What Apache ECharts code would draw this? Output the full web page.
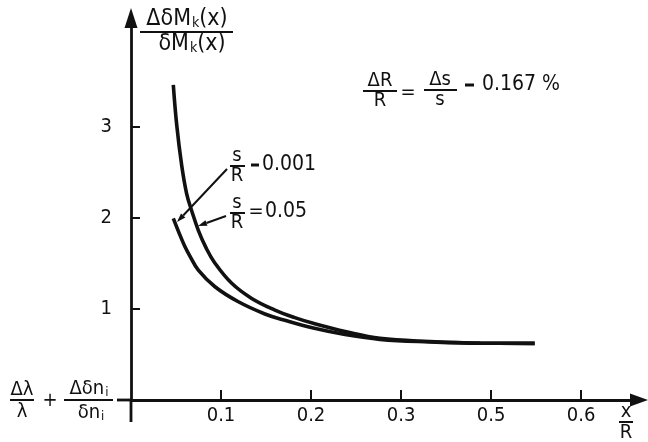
<!DOCTYPE html>
<html lang="en">
<head>
<meta charset="UTF-8">
<title>ΔδMk(x) / δMk(x)</title>
<script src="https://cdn.jsdelivr.net/npm/echarts@6/dist/echarts.min.js"></script>
<style>
    html, body { margin: 0; padding: 0; background: #fff; }
    #chart { width: 648px; height: 442px; }
</style>
</head>
<body>
<div id="chart"></div>
<script>
    // s/R = 0.05 curve (the one that starts high)
    var xHigh = [0.047, 0.0508, 0.0563, 0.0618, 0.0675, 0.0748, 0.0833, 0.0933, 0.1119, 0.1341, 0.1599, 0.182, 0.2025, 0.2393, 0.2765, 0.3318, 0.3881, 0.4485];
    var yHigh = [3.465, 3.023, 2.58, 2.269, 2.078, 1.866, 1.675, 1.504, 1.283, 1.117, 0.989, 0.906, 0.843, 0.75, 0.678, 0.643, 0.625, 0.623];
    // s/R = 0.001 curve
    var xLow = [0.047, 0.0544, 0.06, 0.0656, 0.0748, 0.0933, 0.1193, 0.1488, 0.171, 0.2025, 0.2393, 0.2765, 0.3318, 0.3881, 0.4485];
    var yLow = [1.997, 1.813, 1.685, 1.58, 1.428, 1.245, 1.08, 0.946, 0.876, 0.791, 0.717, 0.667, 0.639, 0.624, 0.623];

    var xTickValues = [0.1, 0.2, 0.3, 0.4, 0.5];
    var xTickLabels = ['0.1', '0.2', '0.3', '0.5', '0.6'];
    var yTickValues = [1, 2, 3];

    var ink = '#111';
    var font = '"DejaVu Sans Condensed", "DejaVu Sans", sans-serif';

    function zip(xs, ys) {
        return xs.map(function (x, i) { return [x, ys[i]]; });
    }

    function txt(s, x, y, size, align, rich) {
        return {
            type: 'text', x: x, y: y, z: 10,
            style: {
                text: s, fill: ink, fontSize: size || 20, fontFamily: font,
                textAlign: align || 'center', textVerticalAlign: 'middle',
                rich: rich
            }
        };
    }
    function bar(x1, x2, y, w) {
        return { type: 'line', z: 10, shape: { x1: x1, y1: y, x2: x2, y2: y }, style: { stroke: ink, lineWidth: w || 2 } };
    }
    function leader(x1, y1, x2, y2) {
        var dx = x2 - x1, dy = y2 - y1, L = Math.sqrt(dx * dx + dy * dy);
        var ux = dx / L, uy = dy / L;
        var bx = x2 - ux * 9, by = y2 - uy * 9;
        return [
            { type: 'line', z: 10, shape: { x1: x1, y1: y1, x2: bx, y2: by }, style: { stroke: ink, lineWidth: 2 } },
            { type: 'polygon', z: 10, shape: { points: [[x2, y2], [bx - uy * 3, by + ux * 3], [bx + uy * 3, by - ux * 3]] }, style: { fill: ink } }
        ];
    }
    function sub(size) {
        return { fontSize: size, fontFamily: font, fill: ink, verticalAlign: 'bottom', padding: [7, 0, 0, 1] };
    }

    var graphics = [
        // axis stubs past the origin
        { type: 'line', z: 5, shape: { x1: 131, y1: 400, x2: 131, y2: 422 }, style: { stroke: ink, lineWidth: 2.8 } },
        { type: 'line', z: 5, shape: { x1: 117, y1: 400, x2: 131, y2: 400 }, style: { stroke: ink, lineWidth: 2.8 } },
        // y axis name
        txt('ΔδM{k|k}(x)', 187, 19, 23, 'center', { k: sub(14) }),
        bar(140, 233, 32),
        txt('δM{k|k}(x)', 192, 44, 23, 'center', { k: sub(14) }),
        // top-right formula
        txt('ΔR', 380, 81), bar(363, 397, 91), txt('R', 380, 101),
        txt('=', 408, 93),
        txt('Δs', 440, 80), bar(424, 457, 90), txt('s', 440, 100),
        bar(465, 474, 85, 3),
        txt('0.167 %', 482, 85, 21, 'left'),
        // s/R labels
        txt('s', 237, 156), bar(230, 245, 166), txt('R', 237, 176),
        bar(251, 259, 165, 3), txt('0.001', 262, 165, 21, 'left'),
        txt('s', 237, 203), bar(230, 245, 213), txt('R', 237, 223),
        txt('=', 256, 212), txt('0.05', 265, 212, 21, 'left'),
        // left label
        txt('Δλ', 22, 390), bar(10, 34, 400), txt('λ', 22, 412),
        txt('+', 50, 401),
        txt('Δδn{i|i}', 89, 389, 20, 'center', { i: sub(13) }),
        bar(64, 113, 400),
        txt('δn{i|i}', 91, 413, 20, 'center', { i: sub(13) }),
        // x axis name
        txt('x', 626, 412), bar(619, 633, 422), txt('R', 626, 433)
    ];
    graphics = graphics.concat(leader(227, 169, 177, 222), leader(226, 216, 198, 226));

    var chart = echarts.init(document.getElementById('chart'), null, { renderer: 'canvas' });
    var option = {
        backgroundColor: '#fff',
        animation: false,
        grid: { left: 131, top: 18, width: 508, height: 382, containLabel: false, outerBoundsMode: 'none' },
        xAxis: {
            type: 'value', min: 0, max: 0.5644,
            splitLine: { show: false },
            axisLine: { onZero: false, symbol: ['none', 'triangle'], symbolSize: [13, 18], lineStyle: { color: ink, width: 2.8 } },
            axisTick: { inside: true, length: 10, customValues: xTickValues, lineStyle: { color: ink, width: 2 } },
            axisLabel: {
                customValues: xTickValues, margin: 6, color: ink, fontSize: 20, fontFamily: font,
                formatter: function (v) {
                    for (var i = 0; i < xTickValues.length; i++) {
                        if (Math.abs(xTickValues[i] - v) < 1e-6) return xTickLabels[i];
                    }
                    return '';
                }
            }
        },
        yAxis: {
            type: 'value', min: 0, max: 4.2,
            splitLine: { show: false },
            axisLine: { onZero: false, symbol: ['none', 'triangle'], symbolSize: [13, 20], lineStyle: { color: ink, width: 2.8 } },
            axisTick: { inside: true, length: 9, customValues: yTickValues, lineStyle: { color: ink, width: 2 } },
            axisLabel: { customValues: yTickValues, margin: 19, color: ink, fontSize: 20, fontFamily: font }
        },
        series: [
            {
                name: 's/R = 0.05', type: 'line', data: zip(xHigh, yHigh),
                smooth: 0.4, showSymbol: false, lineStyle: { color: ink, width: 3.6 }
            },
            {
                name: 's/R = 0.001', type: 'line', data: zip(xLow, yLow),
                smooth: 0.4, showSymbol: false, lineStyle: { color: ink, width: 3.6 }
            }
        ],
        graphic: graphics
    };
    chart.setOption(option);
    window.addEventListener('resize', chart.resize);
</script>
</body>
</html>
